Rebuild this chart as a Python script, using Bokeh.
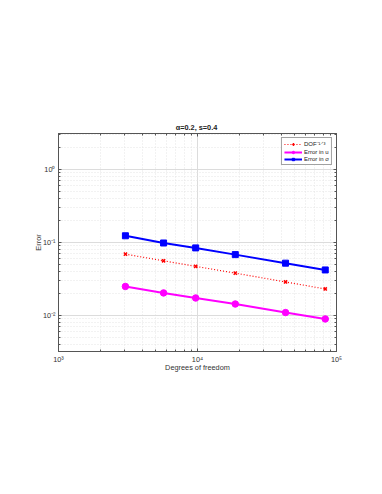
from bokeh.plotting import figure
from bokeh.models import LogAxis, Legend, LegendItem, Range1d, FixedTicker
from bokeh.embed import file_html
from bokeh.resources import INLINE

dof = [3030, 5700, 9700, 18700, 43000, 83000]
err_sigma = [0.123, 0.098, 0.084, 0.068, 0.052, 0.042]
dof_rate = [0.069, 0.056, 0.047, 0.038, 0.0288, 0.0231]
err_u = [0.025, 0.0204, 0.0174, 0.0144, 0.011, 0.009]

x_ticks = [1e3, 1e4, 1e5]
x_labels = {1e3: "10³", 1e4: "10⁴", 1e5: "10⁵"}
y_ticks = [1e-2, 1e-1, 1e0]
y_labels = {1e-2: "10⁻²", 1e-1: "10⁻¹", 1e0: "10⁰"}

FONT = "Liberation Sans"
minor = [m * 10**e for e in range(-4, 6) for m in range(2, 10)]

p = figure(width=366, height=478, x_axis_type="log", y_axis_type="log",
           x_range=Range1d(1e3, 1e5), y_range=Range1d(10**-2.49, 10**0.486),
           output_backend="svg", toolbar_location=None,
           min_border_left=58, min_border_right=30, min_border_top=133, min_border_bottom=127,
           background_fill_color="white", border_fill_color="white")

p.title.text = "α=0.2,  s=0.4"
p.title.align = "center"
p.title.text_font = FONT
p.title.text_font_size = "5.5pt"
p.title.text_font_style = "bold"
p.title.text_color = "#222222"
p.title.standoff = 3

for ax, ticks, labels in [(p.xaxis[0], x_ticks, x_labels), (p.yaxis[0], y_ticks, y_labels)]:
    ax.ticker = FixedTicker(ticks=ticks, minor_ticks=minor)
    ax.major_label_overrides = labels
    ax.major_label_text_font = FONT
    ax.major_label_text_font_size = "5.5pt"
    ax.major_label_text_color = "#333333"
    ax.axis_label_text_font = FONT
    ax.axis_label_text_font_size = "5.5pt"
    ax.axis_label_text_font_style = "normal"
    ax.axis_label_text_color = "#333333"
    ax.axis_line_color = "#555555"
    ax.major_tick_in = 3
    ax.major_tick_out = 0
    ax.minor_tick_in = 2
    ax.minor_tick_out = 0
    ax.major_tick_line_color = "#555555"
    ax.minor_tick_line_color = "#555555"
    ax.major_label_standoff = 3

p.xaxis.axis_label = "Degrees of freedom"
p.yaxis.axis_label = "Error"
p.xaxis.axis_label_standoff = -4
p.yaxis.axis_label_standoff = -3

for side, ticks in [("above", x_ticks), ("right", y_ticks)]:
    a = LogAxis(ticker=FixedTicker(ticks=ticks, minor_ticks=minor),
                major_label_text_color=None, major_label_text_font_size="5pt",
                axis_line_color="#555555",
                major_tick_in=3, major_tick_out=0, minor_tick_in=2, minor_tick_out=0,
                major_tick_line_color="#555555", minor_tick_line_color="#555555",
                major_label_standoff=0)
    p.add_layout(a, side)

for g in p.grid:
    g.grid_line_color = "#dcdcdc"
    g.grid_line_width = 1
    g.minor_grid_line_color = "#e4e4e4"
    g.minor_grid_line_dash = "1 2"
    g.minor_grid_line_width = 1

p.outline_line_color = "#555555"

r1 = p.line(dof, dof_rate, line_color="#ff0000", line_width=1.2, line_dash="1 2")
r1m = p.scatter(dof, dof_rate, marker="x", size=4.5, line_color="#ff0000", line_width=1.5)
r2 = p.line(dof, err_u, line_color="#ff00ff", line_width=2)
r2m = p.scatter(dof, err_u, marker="circle", size=6.5, fill_color="#ff00ff", line_color="#ff00ff")
r3 = p.line(dof, err_sigma, line_color="#0000ff", line_width=2)
r3m = p.scatter(dof, err_sigma, marker="square", size=6, fill_color="#0000ff", line_color="#0000ff")

legend = Legend(items=[
    LegendItem(label="DOF⁻¹ᐟ³", renderers=[r1, r1m]),
    LegendItem(label="Error in u", renderers=[r2, r2m]),
    LegendItem(label="Error in σ", renderers=[r3, r3m]),
], location="top_right")
legend.label_text_font = FONT
legend.label_text_font_size = "4.5pt"
legend.label_text_color = "#222222"
legend.glyph_width = 18
legend.glyph_height = 6
legend.label_height = 6
legend.spacing = 1
legend.padding = 2
legend.margin = 4
legend.label_standoff = 2
legend.border_line_color = "#444444"
legend.border_line_width = 1
legend.background_fill_alpha = 1
p.add_layout(legend)

open("out.html", "w").write(file_html(p, INLINE))
